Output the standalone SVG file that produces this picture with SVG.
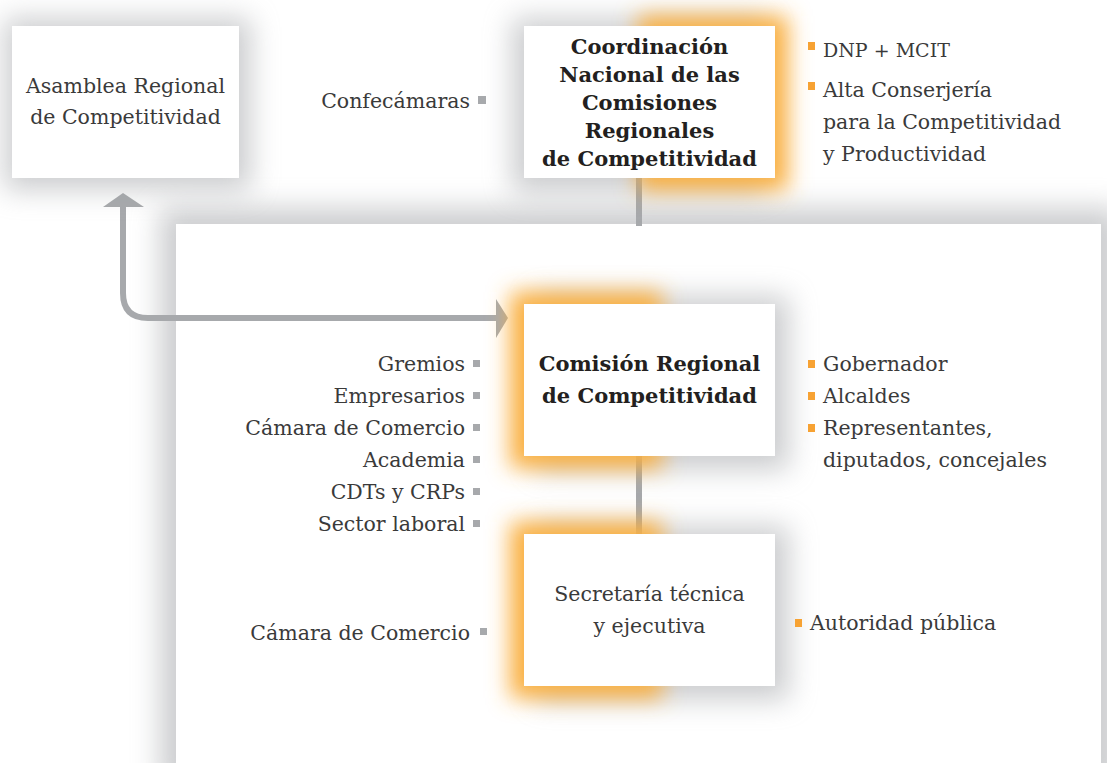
<svg xmlns="http://www.w3.org/2000/svg" width="1107" height="763" viewBox="0 0 1107 763">
<defs>
<filter id="sh" x="-40%" y="-40%" width="180%" height="180%"><feGaussianBlur stdDeviation="14"/></filter>
<filter id="gl" x="-40%" y="-40%" width="180%" height="180%"><feGaussianBlur stdDeviation="11"/></filter>
<style>
.box{fill:#ffffff}
.shd{fill:#9a9ca0;opacity:0.5}
.glw{fill:#fbb040}
.t{font-family:"DejaVu Serif","Liberation Serif",serif;font-size:20.5px;fill:#3a3a3a}
.b{font-family:"DejaVu Serif","Liberation Serif",serif;font-size:21px;font-weight:bold;fill:#231f20}
.s{font-family:"DejaVu Serif","Liberation Serif",serif;font-size:19px;fill:#3a3a3a}
.gb{fill:#a7a9ac}
.ob{fill:#f7a233}
.ln{stroke:#a7a9ac;stroke-width:6;fill:none}
</style>
</defs>
<rect width="1107" height="763" fill="#ffffff"/>

<!-- panel -->
<g id="panel">
<rect class="shd" x="160" y="208" width="960" height="580" filter="url(#sh)"/>
<rect class="box" x="176" y="224" width="925" height="545"/>
</g>

<!-- connectors -->
<g id="connectors">
<line class="ln" x1="639" y1="170" x2="639" y2="226"/>
<line class="ln" x1="639" y1="450" x2="639" y2="540"/>
<path class="ln" d="M123,205 L123,293 Q123,318 148,318 L498,318"/>
<polygon class="gb" points="103,207 123,193 144,207"/>
<polygon class="gb" points="496,299 508,318 496,338"/>
</g>

<g id="asamblea">
<rect class="shd" x="4" y="18" width="247" height="172" filter="url(#sh)"/>
<rect class="box" x="12" y="26" width="227" height="152"/>
<text class="t" x="125.5" y="93" text-anchor="middle">Asamblea Regional</text>
<text class="t" x="125.5" y="124" text-anchor="middle">de Competitividad</text>
</g>

<g id="coordinacion">
<rect class="shd" x="512" y="18" width="254" height="174" filter="url(#sh)"/>
<rect class="glw" x="638" y="16" width="150" height="174" filter="url(#gl)"/>
<rect class="box" x="524" y="26" width="251" height="152"/>
<text class="b" x="649.5" y="54" text-anchor="middle">Coordinación</text>
<text class="b" x="649.5" y="82" text-anchor="middle">Nacional de las</text>
<text class="b" x="649.5" y="110" text-anchor="middle">Comisiones</text>
<text class="b" x="649.5" y="138" text-anchor="middle">Regionales</text>
<text class="b" x="649.5" y="166" text-anchor="middle">de Competitividad</text>
</g>

<g id="comision">
<rect class="shd" x="535" y="296" width="254" height="174" filter="url(#sh)"/>
<rect class="glw" x="510" y="292" width="152" height="176" filter="url(#gl)"/>
<rect class="box" x="524" y="304" width="251" height="152"/>
<text class="b" x="649.5" y="371" text-anchor="middle">Comisión Regional</text>
<text class="b" x="649.5" y="403" text-anchor="middle">de Competitividad</text>
</g>

<g id="secretaria">
<rect class="shd" x="535" y="526" width="254" height="174" filter="url(#sh)"/>
<rect class="glw" x="510" y="522" width="152" height="176" filter="url(#gl)"/>
<rect class="box" x="524" y="534" width="251" height="152"/>
<text class="t" x="649.5" y="601" text-anchor="middle">Secretaría técnica</text>
<text class="t" x="649.5" y="633" text-anchor="middle">y ejecutiva</text>
</g>

<g id="confecamaras">
<text class="t" x="470" y="108" text-anchor="end">Confecámaras</text>
<rect class="gb" x="478" y="96" width="8" height="8"/>
</g>

<g id="coord-list">
<rect class="ob" x="808" y="42" width="7" height="8"/>
<text class="s" x="823" y="57">DNP + MCIT</text>
<rect class="ob" x="808" y="82" width="7" height="8"/>
<text class="t" x="823" y="97">Alta Conserjería</text>
<text class="t" x="823" y="129">para la Competitividad</text>
<text class="t" x="823" y="161">y Productividad</text>
</g>

<g id="left-list">
<text class="t" x="465" y="371" text-anchor="end">Gremios</text>
<rect class="gb" x="473" y="360" width="7" height="7"/>
<text class="t" x="465" y="403" text-anchor="end">Empresarios</text>
<rect class="gb" x="473" y="392" width="7" height="7"/>
<text class="t" x="465" y="435" text-anchor="end">Cámara de Comercio</text>
<rect class="gb" x="473" y="424" width="7" height="7"/>
<text class="t" x="465" y="467" text-anchor="end">Academia</text>
<rect class="gb" x="473" y="456" width="7" height="7"/>
<text class="t" x="465" y="499" text-anchor="end">CDTs y CRPs</text>
<rect class="gb" x="473" y="488" width="7" height="7"/>
<text class="t" x="465" y="531" text-anchor="end">Sector laboral</text>
<rect class="gb" x="473" y="520" width="7" height="7"/>
</g>

<g id="right-list">
<rect class="ob" x="808" y="360" width="7" height="8"/>
<text class="t" x="823" y="371">Gobernador</text>
<rect class="ob" x="808" y="392" width="7" height="8"/>
<text class="t" x="823" y="403">Alcaldes</text>
<rect class="ob" x="808" y="424" width="7" height="8"/>
<text class="t" x="823" y="435">Representantes,</text>
<text class="t" x="823" y="467">diputados, concejales</text>
</g>

<g id="secretaria-left">
<text class="t" x="470" y="640" text-anchor="end">Cámara de Comercio</text>
<rect class="gb" x="480" y="628" width="7" height="7"/>
</g>

<g id="secretaria-right">
<rect class="ob" x="795" y="619" width="7" height="8"/>
<text class="t" x="810" y="630">Autoridad pública</text>
</g>
</svg>
